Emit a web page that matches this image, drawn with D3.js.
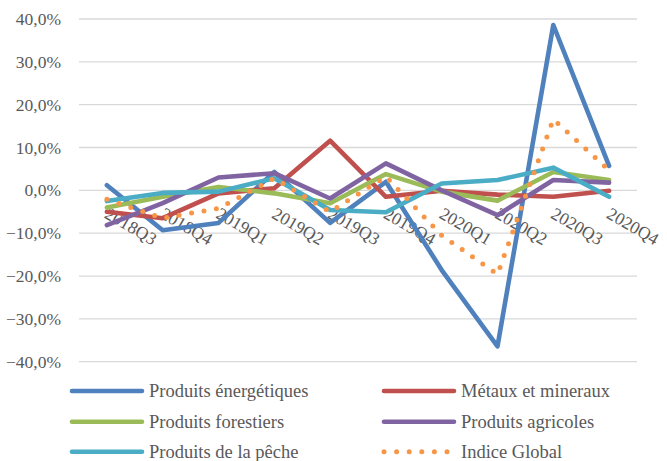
<!DOCTYPE html>
<html>
<head>
<meta charset="utf-8">
<script src="https://cdn.jsdelivr.net/npm/d3@7/dist/d3.min.js"></script>
<style>
  html, body { margin: 0; padding: 0; background: #fff; }
  svg { display: block; }
</style>
</head>
<body>
<svg id="chart" width="667" height="461"></svg>
<script>
const categories = ["2018Q3","2018Q4","2019Q1","2019Q2","2019Q3","2019Q4","2020Q1","2020Q2","2020Q3","2020Q4"];
const energetiques = [1.2, -9.3, -7.6, 4.3, -7.6, 2.0, -18.6, -36.4, 38.6, 5.7];
const metaux       = [-5.0, -6.5, -0.7, 0.5, 11.6, -1.5, -0.1, -1.0, -1.5, -0.1];
const forestiers   = [-4.0, -1.5, 0.8, -0.7, -3.0, 3.8, -0.3, -2.4, 4.3, 2.4];
const agricoles    = [-8.1, -3.0, 3.0, 4.0, -1.9, 6.3, 0.0, -5.8, 2.4, 1.8];
const peche        = [-2.5, -0.6, -0.3, 2.8, -4.6, -5.1, 1.6, 2.4, 5.3, -1.5];
const indiceGlobal = [-2.1, -6.5, -4.2, 2.8, -5.0, 3.2, -10.5, -19.6, 16.6, 4.7];
const yTicks = [40, 30, 20, 10, 0, -10, -20, -30, -40];

const seriesNames = ["Produits énergétiques","Métaux et mineraux","Produits forestiers","Produits agricoles","Produits de la pêche","Indice Global"];
const seriesValues = [energetiques, metaux, forestiers, agricoles, peche, indiceGlobal];
const seriesColors = ["#4F81BD","#C0504D","#9BBB59","#8064A2","#4BACC6","#F79646"];
const seriesDotted = [false,false,false,false,false,true];

const FONT = 'Liberation Serif, Tinos, Times New Roman, Times, DejaVu Serif, Noto Serif, FreeSerif, Nimbus Roman, Noto Serif CJK SC, serif';
const svg = d3.select("#chart");
const plot = {left: 79, right: 637, top: 19, bottom: 361.7};

const x = d3.scalePoint().domain(categories).range([plot.left, plot.right]).padding(0.5);
const y = d3.scaleLinear().domain([-40, 40]).range([plot.bottom, plot.top]);

const fmt = v => d3.format(".1f")(v).replace(".", ",") + "%";

// gridlines
svg.append("g").selectAll("line").data(yTicks).join("line")
  .attr("x1", plot.left).attr("x2", plot.right)
  .attr("y1", d => y(d)).attr("y2", d => y(d))
  .attr("stroke", "#d9d9d9").attr("stroke-width", 1.3);

// y axis labels
const yAxis = d3.axisLeft(y).tickValues(yTicks).tickFormat(fmt).tickSize(0).tickPadding(0);
const gy = svg.append("g").attr("transform", `translate(61,0)`).call(yAxis);
gy.attr("font-family", FONT).attr("font-size", 17.5);
gy.select(".domain").remove();
gy.selectAll("text").attr("fill", "#595959");

// x axis labels (next to 0 line, rotated)
const xAxis = d3.axisBottom(x).tickSize(0).tickPadding(0);
const gx = svg.append("g").attr("transform", `translate(0,${y(0)})`).call(xAxis);
gx.attr("font-family", FONT).attr("font-size", 17.5);
gx.select(".domain").remove();
gx.selectAll("text")
  .attr("fill", "#595959")
  .attr("text-anchor", "start")
  .attr("dy", null).attr("y", 0)
  .attr("transform", "translate(-4,27) rotate(30)");

// series lines
const line = d3.line().x((d, i) => x(categories[i])).y(d => y(d));
seriesValues.forEach((vals, k) => {
  const p = svg.append("path").datum(vals)
    .attr("d", line).attr("fill", "none")
    .attr("stroke", seriesColors[k])
    .attr("stroke-width", 4.6)
    .attr("stroke-linejoin", "round")
    .attr("stroke-linecap", "round");
  if (seriesDotted[k]) p.attr("stroke-dasharray", "0 12.6").attr("stroke-width", 5);
});

// legend
const legendPos = [
  {lx: 72, ty: 391}, {lx: 384, ty: 391},
  {lx: 72, ty: 421.7}, {lx: 384, ty: 421.7},
  {lx: 72, ty: 451.7}, {lx: 384, ty: 451.7}
];
const lg = svg.append("g").attr("font-family", FONT).attr("font-size", 18.5)
  .selectAll("g").data(seriesNames).join("g")
  .attr("transform", (d, i) => `translate(${legendPos[i].lx},${legendPos[i].ty})`);
lg.append("line")
  .attr("x1", 0).attr("x2", 70).attr("y1", 0).attr("y2", 0)
  .attr("stroke", (d, i) => seriesColors[i])
  .attr("stroke-width", (d, i) => seriesDotted[i] ? 5 : 4.6)
  .attr("stroke-linecap", "round")
  .attr("stroke-dasharray", (d, i) => seriesDotted[i] ? "0 12.6" : null);
lg.append("text")
  .attr("x", 77).attr("y", 0).attr("dy", "0.33em")
  .attr("fill", "#595959")
  .text(d => d);
</script>
</body>
</html>
